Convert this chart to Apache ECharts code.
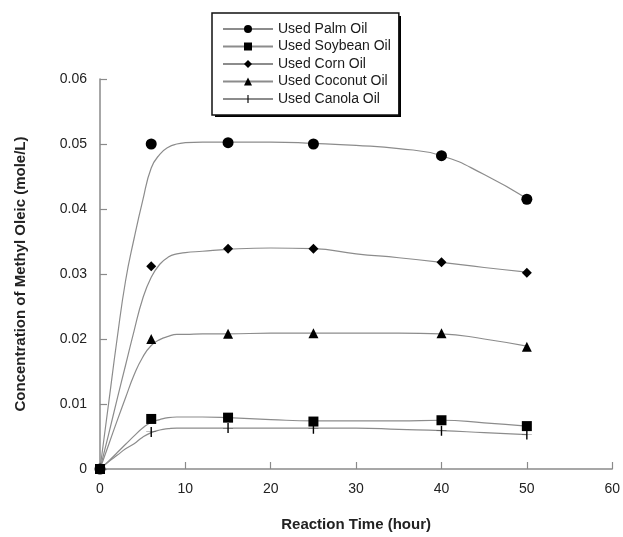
<!DOCTYPE html>
<html>
<head>
<meta charset="utf-8">
<script src="https://cdn.jsdelivr.net/npm/echarts@6/dist/echarts.min.js"></script>
<style>
html,body{margin:0;padding:0;background:#fff;}
#c{width:623px;height:537px;}
</style>
</head>
<body>
<div id="c"></div>
<script>
// Measured marker times (hours)
var markerHours = [0, 6, 15, 25, 40, 50];
// Measured marker values (mole/L)
var palmPoints    = [0, 0.0500, 0.0502, 0.0500, 0.0482, 0.0415];
var soybeanPoints = [0, 0.0077, 0.0079, 0.0073, 0.0075, 0.0066];
var cornPoints    = [0, 0.0312, 0.0339, 0.0339, 0.0318, 0.0302];
var coconutPoints = [0, 0.0200, 0.0208, 0.0209, 0.0209, 0.0188];
var canolaPoints  = [0, 0.0057, 0.0063, 0.0062, 0.0059, 0.0053];

// Fitted curves
var curveHours   = [0, 1, 2, 3, 4, 5, 6, 7, 8, 9, 10, 12, 15, 20, 25, 30, 35, 40, 45, 50];
var palmCurve    = [0, 0.0100, 0.0200, 0.0290, 0.0355, 0.0413, 0.0463, 0.0484, 0.0495, 0.0500, 0.0502, 0.0503, 0.0503, 0.0503, 0.0501, 0.0498, 0.0493, 0.0482, 0.0453, 0.0416];
var soybeanCurve = [0, 0.0012, 0.0025, 0.0038, 0.0051, 0.0063, 0.0072, 0.0076, 0.0079, 0.0080, 0.0080, 0.0080, 0.0079, 0.0076, 0.0074, 0.0074, 0.0074, 0.0075, 0.0071, 0.0066];
var cornCurve    = [0, 0.0053, 0.0107, 0.0160, 0.0213, 0.0262, 0.0295, 0.0315, 0.0326, 0.0331, 0.0333, 0.0335, 0.0338, 0.0340, 0.0339, 0.0331, 0.0325, 0.0318, 0.0310, 0.0303];
var coconutCurve = [0, 0.0037, 0.0074, 0.0110, 0.0145, 0.0172, 0.0190, 0.0199, 0.0204, 0.0207, 0.0207, 0.0208, 0.0208, 0.0209, 0.0209, 0.0209, 0.0209, 0.0208, 0.0200, 0.0189];
var canolaCurve  = [0, 0.0011, 0.0021, 0.0031, 0.0039, 0.0049, 0.0056, 0.0060, 0.0062, 0.0063, 0.0063, 0.0063, 0.0063, 0.0063, 0.0063, 0.0063, 0.0061, 0.0059, 0.0056, 0.0053];

var seriesNames = ['Used Palm Oil', 'Used Soybean Oil', 'Used Corn Oil', 'Used Coconut Oil', 'Used Canola Oil'];
var xTitle = 'Reaction Time (hour)';
var yTitle = 'Concentration of Methyl Oleic (mole/L)';

var FONT = '"Liberation Sans", Arial, Helvetica, sans-serif';
var LINE_COLOR = '#8c8c8c';
var AXIS_COLOR = '#8a8a8a';
var plusSymbol = 'path://M4.3,0 H5.7 V10 H4.3 Z M0,4.85 H10 V5.15 H0 Z';

var defs = [
  {name: seriesNames[0], curve: palmCurve, pts: palmPoints, symbol: 'circle', size: 11},
  {name: seriesNames[1], curve: soybeanCurve, pts: soybeanPoints, symbol: 'rect', size: 10},
  {name: seriesNames[2], curve: cornCurve, pts: cornPoints, symbol: 'diamond', size: 10},
  {name: seriesNames[3], curve: coconutCurve, pts: coconutPoints, symbol: 'triangle', size: 10},
  {name: seriesNames[4], curve: canolaCurve, pts: canolaPoints, symbol: plusSymbol, size: 10}
];

function zip(xs, ys) { return xs.map(function (x, i) { return [x, ys[i]]; }); }

var series = [];
defs.forEach(function (d) {
  series.push({
    name: d.name,
    type: 'line',
    data: zip(curveHours, d.curve),
    smooth: 0.5,
    symbol: d.symbol,
    showSymbol: false,
    silent: true,
    color: '#000',
    itemStyle: {color: '#000'},
    lineStyle: {color: LINE_COLOR, width: 1.2},
    z: 2
  });
});
// draw order so soybean square is on top at the origin
[4, 3, 2, 0, 1].forEach(function (i) {
  var d = defs[i];
  series.push({
    name: d.name + ' points',
    type: 'scatter',
    data: zip(markerHours, d.pts),
    symbol: d.symbol,
    symbolSize: d.size,
    itemStyle: {color: '#000', opacity: 1},
    z: 3 + i
  });
});

var chart = echarts.init(document.getElementById('c'), null, {renderer: 'canvas'});
chart.setOption({
  backgroundColor: '#fff',
  animation: false,
  textStyle: {fontFamily: FONT},
  grid: {left: 100, right: 10, top: 79, bottom: 66.5, containLabel: false},
  graphic: [{
    type: 'rect',
    z: 1,
    shape: {x: 215, y: 16, width: 186, height: 101},
    style: {fill: '#000'}
  }],
  legend: {
    data: seriesNames,
    orient: 'vertical',
    left: 212,
    top: 13,
    z: 10,
    padding: [9, 8, 9, 10],
    itemGap: 3.5,
    itemWidth: 50,
    itemHeight: 10,
    backgroundColor: '#fff',
    borderColor: '#111',
    borderWidth: 1.5,
    textStyle: {fontFamily: FONT, fontSize: 14, color: '#1a1a1a'},
    selectedMode: false
  },
  xAxis: {
    type: 'value',
    min: 0, max: 60, interval: 10,
    name: xTitle,
    nameLocation: 'middle',
    nameGap: 48,
    nameTextStyle: {fontFamily: FONT, fontSize: 15, fontWeight: 'bold', color: '#222'},
    axisLine: {show: true, lineStyle: {color: AXIS_COLOR, width: 1.5}},
    axisTick: {show: true, inside: true, length: 7, lineStyle: {color: AXIS_COLOR, width: 1.2}},
    axisLabel: {fontFamily: FONT, fontSize: 14, color: '#222', margin: 13},
    splitLine: {show: false}
  },
  yAxis: {
    type: 'value',
    min: 0, max: 0.06, interval: 0.01,
    name: yTitle,
    nameLocation: 'middle',
    nameGap: 72,
    nameTextStyle: {fontFamily: FONT, fontSize: 15, fontWeight: 'bold', color: '#222'},
    axisLine: {show: true, lineStyle: {color: AXIS_COLOR, width: 1.5}},
    axisTick: {show: true, inside: true, length: 7, lineStyle: {color: AXIS_COLOR, width: 1.2}},
    axisLabel: {fontFamily: FONT, fontSize: 14, color: '#222', margin: 13,
      formatter: function (v) { return v === 0 ? '0' : v.toFixed(2); }},
    splitLine: {show: false}
  },
  series: series
});
</script>
</body>
</html>
